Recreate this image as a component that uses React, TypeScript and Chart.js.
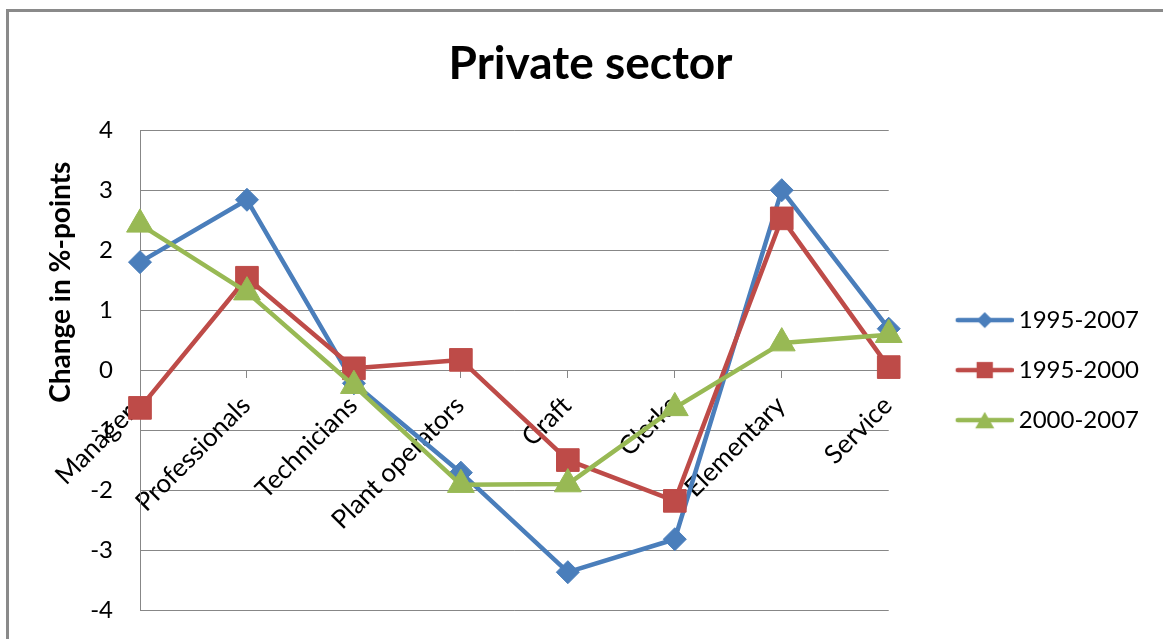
import React, { useEffect, useRef } from 'react';
import { Chart, registerables } from 'chart.js';

Chart.register(...registerables);

// ---- data ----
const TITLE = 'Private sector';
const Y_TITLE = 'Change in %-points';
const categories = ['Managers', 'Professionals', 'Technicians', 'Plant operators', 'Craft', 'Clerks', 'Elementary', 'Service'];
const seriesLabels = ['1995-2007', '1995-2000', '2000-2007'];
const change1995to2007 = [1.8, 2.84, -0.22, -1.71, -3.37, -2.82, 3.0, 0.69];
const change1995to2000 = [-0.63, 1.54, 0.03, 0.17, -1.5, -2.18, 2.53, 0.05];
const change2000to2007 = [2.43, 1.3, -0.26, -1.91, -1.9, -0.63, 0.45, 0.59];
const yTicks = [-4, -3, -2, -1, 0, 1, 2, 3, 4];

// ---- styles ----
const FONT = 'Lato';
const GRID = '#878787';
const COLORS = ['#4A7EBB', '#BE4B48', '#98B954'];
const MARKERS = ['rectRot', 'rect', 'triangle'];
const MARKER_R = [11.5, 16, 15.5];
const LEGEND_MARKER_R = [8, 11.5, 11];
const W = 1163;
const H = 639;

function drawMarker(ctx: CanvasRenderingContext2D, style: string, x: number, y: number, r: number) {
  ctx.beginPath();
  if (style === 'rectRot') {
    ctx.moveTo(x, y - r);
    ctx.lineTo(x + r, y);
    ctx.lineTo(x, y + r);
    ctx.lineTo(x - r, y);
  } else if (style === 'rect') {
    const h = r / Math.SQRT2;
    ctx.rect(x - h, y - h, 2 * h, 2 * h);
  } else {
    const hw = r * Math.sin(Math.PI / 3);
    const th = r * 1.5;
    ctx.moveTo(x, y - th / 2);
    ctx.lineTo(x + hw, y + th / 2);
    ctx.lineTo(x - hw, y + th / 2);
  }
  ctx.closePath();
  ctx.fill();
}

function makeLegendIcon(i: number): HTMLCanvasElement {
  const c = document.createElement('canvas');
  c.width = 106;
  c.height = 24;
  const ctx = c.getContext('2d')!;
  ctx.strokeStyle = COLORS[i];
  ctx.fillStyle = COLORS[i];
  ctx.lineWidth = 4.5;
  ctx.lineCap = 'round';
  ctx.beginPath();
  ctx.moveTo(50, 12);
  ctx.lineTo(104, 12);
  ctx.stroke();
  drawMarker(ctx, MARKERS[i], 77, 12, LEGEND_MARKER_R[i]);
  return c;
}

const yTitlePlugin = {
  id: 'yTitle',
  afterDraw(chart: any) {
    const { ctx, chartArea } = chart;
    ctx.save();
    ctx.translate(chartArea.left - 79, chartArea.top + 152);
    ctx.rotate(-Math.PI / 2);
    ctx.font = `bold 28px ${FONT}`;
    ctx.fillStyle = '#000';
    ctx.textAlign = 'center';
    ctx.textBaseline = 'middle';
    ctx.fillText(Y_TITLE, 0, 0);
    ctx.restore();
  },
};

export default function App() {
  const ref = useRef<HTMLCanvasElement>(null);

  useEffect(() => {
    if (!ref.current) return;
    const series = [change1995to2007, change1995to2000, change2000to2007];
    const icons = series.map((_, i) => makeLegendIcon(i));
    const chart = new Chart(ref.current, {
      type: 'line',
      data: {
        labels: categories,
        datasets: series.map((data, i) => ({
          label: seriesLabels[i],
          data,
          borderColor: COLORS[i],
          backgroundColor: COLORS[i],
          borderWidth: 4.5,
          borderJoinStyle: 'round' as const,
          borderCapStyle: 'round' as const,
          tension: 0,
          pointStyle: MARKERS[i] as any,
          pointRadius: MARKER_R[i],
          pointBorderWidth: 1,
          pointBackgroundColor: COLORS[i],
          pointBorderColor: COLORS[i],
          order: 3 - i,
        })),
      },
      options: {
        responsive: false,
        maintainAspectRatio: false,
        animation: false,
        layout: { padding: { left: 32, right: 14, top: 0, bottom: 29 } },
        plugins: {
          title: {
            display: true,
            text: TITLE,
            color: '#000',
            font: { family: FONT, size: 46, weight: 'bold' },
            padding: { top: 37, bottom: 38 },
          },
          legend: {
            position: 'right',
            fullSize: false,
            labels: {
              usePointStyle: true,
              pointStyleWidth: 92,
              boxHeight: 24,
              padding: 26,
              color: '#000',
              font: { family: FONT, size: 24 },
              generateLabels: (ch: any) =>
                ch.data.datasets.map((ds: any, i: number) => ({
                  text: ds.label,
                  fillStyle: COLORS[i],
                  strokeStyle: COLORS[i],
                  lineWidth: 0,
                  pointStyle: icons[i],
                  hidden: false,
                  datasetIndex: i,
                  fontColor: '#000',
                })),
            },
          },
          tooltip: { enabled: false },
        },
        scales: {
          x: {
            type: 'category',
            position: { y: 0 } as any,
            offset: false,
            z: 1,
            grid: { drawOnChartArea: false, drawTicks: true, tickLength: 8, color: GRID },
            border: { display: false },
            ticks: {
              autoSkip: false,
              minRotation: 45,
              maxRotation: 45,
              padding: 12,
              labelOffset: -1,
              color: '#000',
              font: { family: FONT, size: 26 },
            },
          },
          y: {
            min: yTicks[0],
            max: yTicks[yTicks.length - 1],
            ticks: { stepSize: 1, padding: 27, color: '#000', font: { family: FONT, size: 24 } },
            grid: { color: GRID, drawTicks: false },
            border: { display: true, color: GRID },
            afterFit: (s: any) => {
              s.width = 108;
              s.paddingTop = 14;
              s.paddingBottom = 14;
            },
          },
        },
      },
      plugins: [yTitlePlugin],
    });
    return () => chart.destroy();
  }, []);

  return (
    <div style={{ position: 'fixed', left: 0, top: 0, width: W, height: H, background: '#fff', overflow: 'hidden' }}>
      <canvas ref={ref} width={W} height={H} style={{ position: 'absolute', left: 0, top: 0 }} />
      <div
        style={{
          position: 'absolute',
          left: 6,
          top: 9,
          width: W + 20,
          height: H + 20,
          borderLeft: '3px solid #8a8a8a',
          borderTop: '3px solid #8a8a8a',
          pointerEvents: 'none',
        }}
      />
    </div>
  );
}
